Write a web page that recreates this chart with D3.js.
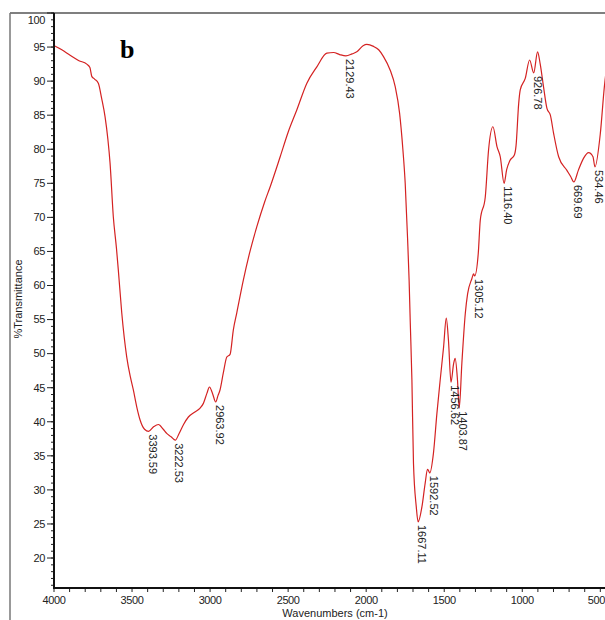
<!DOCTYPE html>
<html lang="en">
<head>
    <meta charset="UTF-8">
    <script src="https://d3js.org/d3.v7.min.js"></script>
    <style>
        body { margin: 0; background: #fff; }
        text { font-family: "Liberation Sans", Arial, sans-serif; }
        text.panel { font-family: "Liberation Serif", "Times New Roman", serif; font-weight: bold; }
    </style>
</head>
<body>
    <svg id="chart" width="605" height="620"></svg>

    <script>
        // spectrum trace (wavenumber, %T)
        const wavenumbers = [4000, 3950, 3897, 3840, 3790, 3770, 3758, 3740, 3716, 3695, 3673, 3655, 3641, 3620, 3600, 3588,
            3566, 3534, 3510, 3492, 3470, 3449, 3420, 3393.59, 3360, 3331, 3300, 3278, 3250, 3222.53, 3200, 3170, 3139,
            3100, 3064, 3043, 3020, 3004, 2985, 2963.92, 2950, 2936, 2915, 2893, 2872, 2851, 2829, 2787, 2750, 2701,
            2650, 2615, 2551, 2500, 2444, 2380, 2316, 2252, 2209, 2170, 2129.43, 2090, 2060, 2020, 1996, 1953, 1920,
            1889, 1846, 1814, 1786, 1765, 1750, 1735, 1725, 1718, 1707, 1697, 1679, 1667.11, 1643, 1622, 1607, 1600,
            1592.52, 1569, 1547, 1526, 1504, 1487, 1473, 1456.62, 1440, 1430, 1415, 1403.87, 1387, 1365, 1350, 1323,
            1312, 1305.12, 1282, 1269, 1237, 1216, 1188, 1162, 1141, 1116.40, 1100, 1080, 1050, 1040, 1023, 1013, 981,
            953, 926.78, 902, 885, 864, 842, 820, 799, 767, 714, 690, 669.69, 641, 607, 575, 547, 534.46, 500, 474, 460];
        const transmittance = [95.2, 94.6, 93.8, 93.0, 92.5, 92.0, 90.7, 90.3, 89.7, 87.5, 84.8, 81.5, 78.0, 70.1, 65.5, 62.3,
            56.0, 49.5, 46.5, 44.7, 42.2, 40.3, 38.9, 38.6, 39.3, 39.6, 38.9, 38.3, 37.8, 37.3, 38.2, 39.6, 40.7,
            41.4, 42.0, 42.7, 44.2, 45.1, 44.2, 42.9, 43.8, 44.7, 47.2, 49.5, 49.9, 53.5, 56.0, 60.8, 64.5, 68.6,
            72.3, 74.5, 78.9, 82.5, 85.8, 89.7, 92.1, 94.1, 94.2, 93.9, 93.7, 94.0, 94.3, 95.2, 95.4, 95.1, 94.6,
            93.6, 91.6, 89.2, 85.3, 80.0, 75.0, 67.0, 60.8, 54.9, 46.1, 33.9, 27.5, 25.3, 27.5, 31.0, 33.0, 32.8,
            32.5, 35.4, 41.2, 46.1, 51.0, 55.2, 52.0, 45.8, 48.5, 49.3, 46.1, 42.0, 48.6, 55.9, 58.8, 61.0,
            61.7, 61.4, 64.7, 69.6, 73.0, 79.9, 83.3, 80.4, 78.9, 75.0, 77.0, 78.3, 79.2, 80.5, 86.7, 88.7, 90.4,
            93.1, 91.2, 94.3, 92.5, 89.2, 86.0, 85.0, 82.3, 78.9, 76.9, 76.0, 75.2, 76.9, 78.7, 79.5, 78.9, 77.4, 82.3, 89.2, 92.0];

        // annotated peaks
        const peakWn = [3393.59, 3222.53, 2963.92, 2129.43, 1667.11, 1592.52, 1456.62, 1403.87, 1305.12, 1116.40, 926.78, 669.69, 534.46];
        const peakT = [38.6, 37.3, 42.9, 93.7, 25.3, 32.5, 45.8, 42.0, 61.4, 75.0, 91.2, 75.2, 77.4];

        const xMajor = [4000, 3500, 3000, 2500, 2000, 1500, 1000, 500];
        const yMajor = [20, 25, 30, 35, 40, 45, 50, 55, 60, 65, 70, 75, 80, 85, 90, 95, 100];

        const svg = d3.select("#chart");
        const x = d3.scaleLinear().domain([4000, 470]).range([54, 605]);
        const y = d3.scaleLinear().domain([15.6, 100]).range([588, 13]);

        // outer frame
        svg.append("line").attr("x1", 10).attr("x2", 605).attr("y1", 13).attr("y2", 13)
            .attr("stroke", "#555").attr("stroke-width", 1.5);
        svg.append("line").attr("x1", 10).attr("x2", 10).attr("y1", 13).attr("y2", 620)
            .attr("stroke", "#777").attr("stroke-width", 1.5);

        // y axis: minor ticks every 1, major every 5
        const yMinor = d3.range(16, 101, 1);
        svg.selectAll(".ymin").data(yMinor).enter().append("line")
            .attr("x1", 51).attr("x2", 54)
            .attr("y1", d => y(d)).attr("y2", d => y(d))
            .attr("stroke", "#222").attr("stroke-width", 1);
        svg.selectAll(".ymaj").data(yMajor).enter().append("line")
            .attr("x1", 47).attr("x2", 54)
            .attr("y1", d => y(d)).attr("y2", d => y(d))
            .attr("stroke", "#222").attr("stroke-width", 1);
        svg.selectAll(".ylab").data(yMajor).enter().append("text")
            .attr("x", 45)
            .attr("y", d => d === 100 ? y(d) + 7 : y(d))
            .attr("dy", "0.35em")
            .attr("text-anchor", "end")
            .attr("font-size", 11)
            .attr("letter-spacing", -0.4)
            .attr("fill", "#222")
            .text(d => d);

        // x axis: minor ticks every 100
        const xMinor = d3.range(500, 4001, 100);
        svg.selectAll(".xmin").data(xMinor).enter().append("line")
            .attr("x1", d => x(d)).attr("x2", d => x(d))
            .attr("y1", 588).attr("y2", 592)
            .attr("stroke", "#222").attr("stroke-width", 1);
        svg.selectAll(".xlab").data(xMajor).enter().append("text")
            .attr("x", d => d === 500 ? 605 : x(d))
            .attr("y", 604)
            .attr("text-anchor", d => d === 500 ? "end" : "middle")
            .attr("font-size", 11)
            .attr("letter-spacing", -0.4)
            .attr("fill", "#222")
            .text(d => d);

        // axis lines
        svg.append("line").attr("x1", 54).attr("x2", 54).attr("y1", 13).attr("y2", 589)
            .attr("stroke", "#111").attr("stroke-width", 2);
        svg.append("line").attr("x1", 53).attr("x2", 605).attr("y1", 588).attr("y2", 588)
            .attr("stroke", "#111").attr("stroke-width", 2);

        // titles
        svg.append("text")
            .attr("transform", "translate(22,299) rotate(-90)")
            .attr("text-anchor", "middle")
            .attr("font-size", 11)
            .attr("fill", "#222")
            .text("%Transmittance");
        svg.append("text")
            .attr("x", 335).attr("y", 617)
            .attr("text-anchor", "middle")
            .attr("font-size", 11)
            .attr("fill", "#222")
            .text("Wavenumbers (cm-1)");
        svg.append("text")
            .attr("class", "panel")
            .attr("x", 120).attr("y", 58)
            .attr("font-size", 26)
            .attr("fill", "#000")
            .text("b");

        // spectrum
        svg.append("defs").append("clipPath").attr("id", "plot")
            .append("rect").attr("x", 55).attr("y", 14).attr("width", 550).attr("height", 573);
        const pts = wavenumbers.map((w, i) => [w, transmittance[i]]);
        const line = d3.line()
            .x(d => x(d[0]))
            .y(d => y(d[1]))
            .curve(d3.curveMonotoneX);
        svg.append("path")
            .datum(pts)
            .attr("clip-path", "url(#plot)")
            .attr("d", line)
            .attr("fill", "none")
            .attr("stroke", "#d42222")
            .attr("stroke-width", 1.2);

        // peak labels
        svg.selectAll(".peak").data(peakWn).enter().append("text")
            .attr("transform", (d, i) => `translate(${x(d)},${y(peakT[i]) + 3}) rotate(90)`)
            .attr("font-size", 11)
            .attr("fill", "#222")
            .text(d => d.toFixed(2));
    </script>
</body>
</html>
